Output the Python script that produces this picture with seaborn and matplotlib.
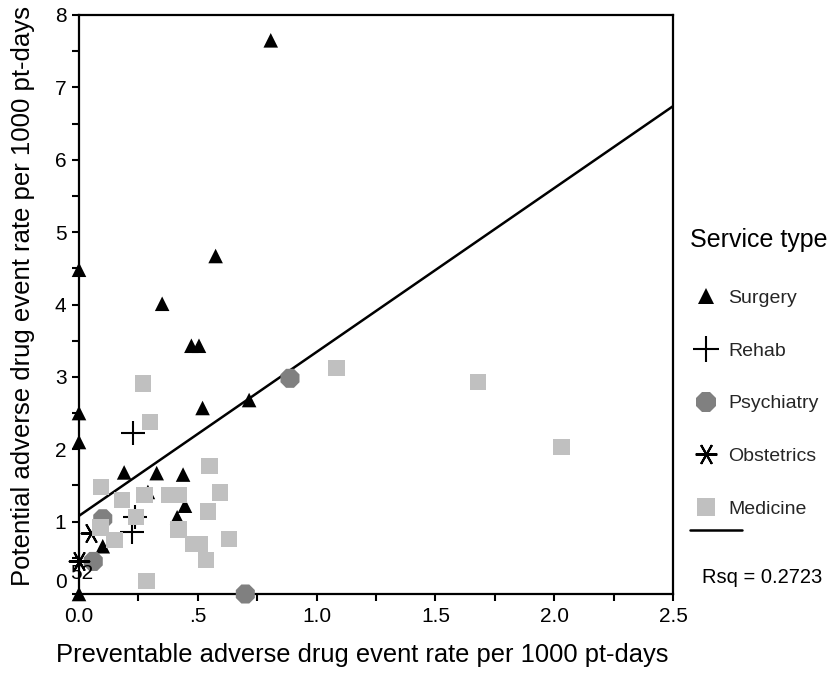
import matplotlib
matplotlib.use("Agg")
import matplotlib.pyplot as plt
import seaborn as sns
from matplotlib.lines import Line2D

# values
surgery_x = [0.807, 0.0, 0.575, 0.35, 0.473, 0.505, 0.52, 0.716, 0.0, 0.0,
             0.19, 0.327, 0.438, 0.29, 0.446, 0.413, 0.10, 0.0]
surgery_y = [7.65, 4.48, 4.67, 4.01, 3.43, 3.43, 2.57, 2.68, 2.50, 2.10,
             1.68, 1.67, 1.65, 1.41, 1.22, 1.06, 0.66, 0.0]

rehab_x = [0.229, 0.221, 0.235]
rehab_y = [2.22, 0.86, 1.07]

psych_x = [0.888, 0.10, 0.06, 0.70]
psych_y = [2.98, 1.04, 0.45, 0.0]

obst_x = [0.05, 0.0]
obst_y = [0.84, 0.46]

medicine_x = [1.083, 1.68, 2.03, 0.27, 0.30, 0.093, 0.18, 0.275, 0.38, 0.42, 0.24,
              0.091, 0.15, 0.285, 0.55, 0.593, 0.544, 0.418, 0.48, 0.51, 0.534, 0.632]
medicine_y = [3.12, 2.93, 2.03, 2.91, 2.38, 1.48, 1.30, 1.37, 1.37, 1.37, 1.06,
              0.92, 0.75, 0.18, 1.77, 1.40, 1.14, 0.89, 0.69, 0.69, 0.47, 0.76]

# fitted line, read at both ends of the x range
fit_x = [0.0, 2.5]
fit_y = [1.08, 6.74]
rsq_text = "Rsq = 0.2723"

case_label = "52"
case_x, case_y = 0.013, 0.28

x_ticks = [0.0, 0.25, 0.5, 0.75, 1.0, 1.25, 1.5, 1.75, 2.0, 2.25, 2.5]
x_ticklabels = ["0.0", "", ".5", "", "1.0", "", "1.5", "", "2.0", "", "2.5"]
y_ticks = [0, 0.5, 1, 1.5, 2, 2.5, 3, 3.5, 4, 4.5, 5, 5.5, 6, 6.5, 7, 7.5, 8]
y_ticklabels = ["", "", "1", "", "2", "", "3", "", "4", "", "5", "", "6", "", "7", "", "8"]

sns.set_theme(style="white")
plt.rcParams["font.family"] = ["Liberation Sans", "DejaVu Sans"]

fig, ax = plt.subplots(figsize=(8.39, 6.75), dpi=100)
fig.subplots_adjust(left=79 / 839, right=673 / 839, bottom=1 - 594 / 675, top=1 - 15 / 675)

# (label, x, y, marker, size, color, linewidth)
groups = [
    ("Surgery", surgery_x, surgery_y, "^", 110, "black", 0),
    ("Rehab", rehab_x, rehab_y, "+", 280, "black", 1.5),
    ("Psychiatry", psych_x, psych_y, "8", 220, "#808080", 0),
    ("Obstetrics", obst_x, obst_y, (6, 2, 90), 200, "black", 1.5),
    ("Medicine", medicine_x, medicine_y, "s", 140, "#c0c0c0", 0),
]

handles = []
for name, gx, gy, mk, size, col, lw in groups:
    if lw:
        sns.scatterplot(x=gx, y=gy, ax=ax, marker=mk, s=size, color=col,
                        linewidth=lw, clip_on=False, zorder=3, legend=False)
    else:
        sns.scatterplot(x=gx, y=gy, ax=ax, marker=mk, s=size, color=col,
                        edgecolor="none", clip_on=False, zorder=3, legend=False)
    handles.append(Line2D([], [], linestyle="none", marker=mk, markersize=size ** 0.5 * 1.1,
                          markerfacecolor=col, markeredgecolor=col if lw else "none",
                          markeredgewidth=lw))

sns.lineplot(x=fit_x, y=fit_y, ax=ax, color="black", linewidth=1.8, zorder=2)

ax.text(case_x, case_y, case_label, fontsize=15, ha="center", va="center", color="black")

ax.set_xlim(0, 2.5)
ax.set_ylim(0, 8)
ax.set_xticks(x_ticks)
ax.set_xticklabels(x_ticklabels)
ax.set_yticks(y_ticks)
ax.set_yticklabels(y_ticklabels)
# the zero label sits a bit above its tick in the original
ax.annotate("0", xy=(0, 0), xycoords=("axes fraction", "data"), xytext=(-8.6, 8.3),
            textcoords="offset points", ha="right", va="center", fontsize=15, color="black")

ax.tick_params(axis="both", direction="out", length=5, width=1.5, color="black",
               labelsize=15, labelcolor="black", pad=4, left=True, bottom=True)
for sp in ax.spines.values():
    sp.set_color("black")
    sp.set_linewidth(1.6)

ax.set_xlabel("Preventable adverse drug event rate per 1000 pt-days", fontsize=18.4, color="black")
ax.set_ylabel("Potential adverse drug event rate per 1000 pt-days", fontsize=18.5, color="black")
ax.xaxis.set_label_coords(0.477, -0.0846)
ax.yaxis.set_label_coords(-0.074, 0.515)

ax.legend(handles, [g[0] for g in groups], loc="upper left",
          bbox_to_anchor=(696.3 / 839, 1 - 289.5 / 675), bbox_transform=fig.transFigure,
          frameon=False, fontsize=14, handlelength=1.0, handletextpad=0.63,
          labelspacing=1.80, borderpad=0, borderaxespad=0)

fig.text(690 / 839, 1 - 246.7 / 675, "Service type", fontsize=18, va="baseline", color="black")
fig.add_artist(Line2D([690 / 839, 742 / 839], [1 - 530 / 675] * 2,
                      transform=fig.transFigure, color="black", linewidth=1.8))
fig.text(701.7 / 839, 1 - 583.3 / 675, rsq_text, fontsize=14.5, va="baseline", color="black")

fig.savefig("out.png", dpi=100)
